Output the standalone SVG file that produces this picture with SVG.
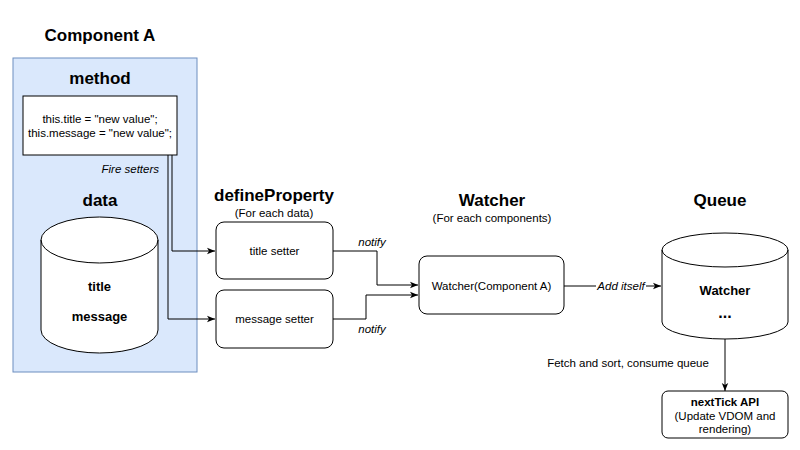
<svg xmlns="http://www.w3.org/2000/svg" width="800" height="450" viewBox="0 0 800 450">
<defs>
<marker id="arr" viewBox="0 0 10 10" refX="10" refY="5" markerWidth="8" markerHeight="8" markerUnits="userSpaceOnUse" orient="auto">
<path d="M0,1 L10,5 L0,9 L2.5,5 z" fill="#000"/>
</marker>
<style>
text{font-family:"Liberation Sans",Arial,sans-serif;fill:#000}
.h{font-size:17px;font-weight:bold;text-anchor:middle}
.t{font-size:11.5px;text-anchor:middle}
.b{font-size:13px;font-weight:bold;text-anchor:middle}
.i{font-size:11.5px;font-style:italic;text-anchor:middle}
.box{fill:#fff;stroke:#000;stroke-width:1}
.ln{fill:none;stroke:#000;stroke-width:1;marker-end:url(#arr)}
</style>
</defs>
<rect width="800" height="450" fill="#fff"/>
<g id="componentA">
<text class="h" x="100" y="41">Component A</text>
<rect x="13" y="58" width="184" height="314" fill="#dae8fc" stroke="#6c8ebf" stroke-width="1"/>
<text class="h" x="100" y="84">method</text>
<text class="h" x="100" y="206">data</text>
</g>
<g id="methodBox">
<rect class="box" x="23" y="96" width="154" height="59"/>
<text class="t" x="100" y="123">this.title = "new value";</text>
<text class="t" x="100" y="137">this.message = "new value";</text>
</g>
<g id="dataCylinder">
<path class="box" d="M41,240 A58.5,23 0 0 1 158,240 V330 A58.5,23 0 0 1 41,330 Z"/>
<path fill="none" stroke="#000" d="M41,240 A58.5,23 0 0 0 158,240"/>
<text class="b" x="99.5" y="291">title</text>
<text class="b" x="99.5" y="321">message</text>
</g>
<g id="defineProperty">
<text class="h" x="274" y="201">defineProperty</text>
<text class="t" x="274" y="217">(For each data)</text>
</g>
<g id="titleSetter">
<rect class="box" x="216" y="222" width="117" height="57" rx="8"/>
<text class="t" x="274.5" y="255">title setter</text>
</g>
<g id="messageSetter">
<rect class="box" x="216" y="290" width="117" height="58" rx="8"/>
<text class="t" x="274.5" y="323">message setter</text>
</g>
<g id="watcherTitle">
<text class="h" x="492" y="206">Watcher</text>
<text class="t" x="492" y="222">(For each components)</text>
</g>
<g id="watcher">
<rect class="box" x="419" y="256" width="145" height="58" rx="8"/>
<text class="t" x="491.5" y="290">Watcher(Component A)</text>
</g>
<g id="queue">
<text class="h" x="720" y="206">Queue</text>
<path class="box" d="M662,250 A63,17 0 0 1 788,250 V322 A63,17 0 0 1 662,322 Z"/>
<path fill="none" stroke="#000" d="M662,250 A63,17 0 0 0 788,250"/>
<text class="b" x="725" y="295">Watcher</text>
<text class="b" x="725" y="318" style="font-size:16px">...</text>
</g>
<g id="nextTick">
<rect class="box" x="662" y="391" width="126" height="47" rx="6"/>
<text class="t" x="725" y="406" font-weight="bold">nextTick API</text>
<text class="t" x="725" y="420">(Update VDOM and</text>
<text class="t" x="725" y="433">rendering)</text>
</g>
<g id="connectors">
<path class="ln" d="M172,155 V251 H215"/>
<path class="ln" d="M168,155 V319 H215"/>
<path class="ln" d="M333,251 H377 V285 H418"/>
<path class="ln" d="M333,319 H366 V295 H418"/>
<path class="ln" d="M564,286 H661"/>
<path class="ln" d="M725,339 V391"/>
<text class="i" x="159" y="173" style="text-anchor:end">Fire setters</text>
<text class="i" x="372" y="246">notify</text>
<text class="i" x="372" y="333">notify</text>
<rect x="596" y="279" width="50" height="14" fill="#fff"/>
<text class="i" x="621" y="290">Add itself</text>
<text class="t" x="628" y="367">Fetch and sort, consume queue</text>
</g>
</svg>
